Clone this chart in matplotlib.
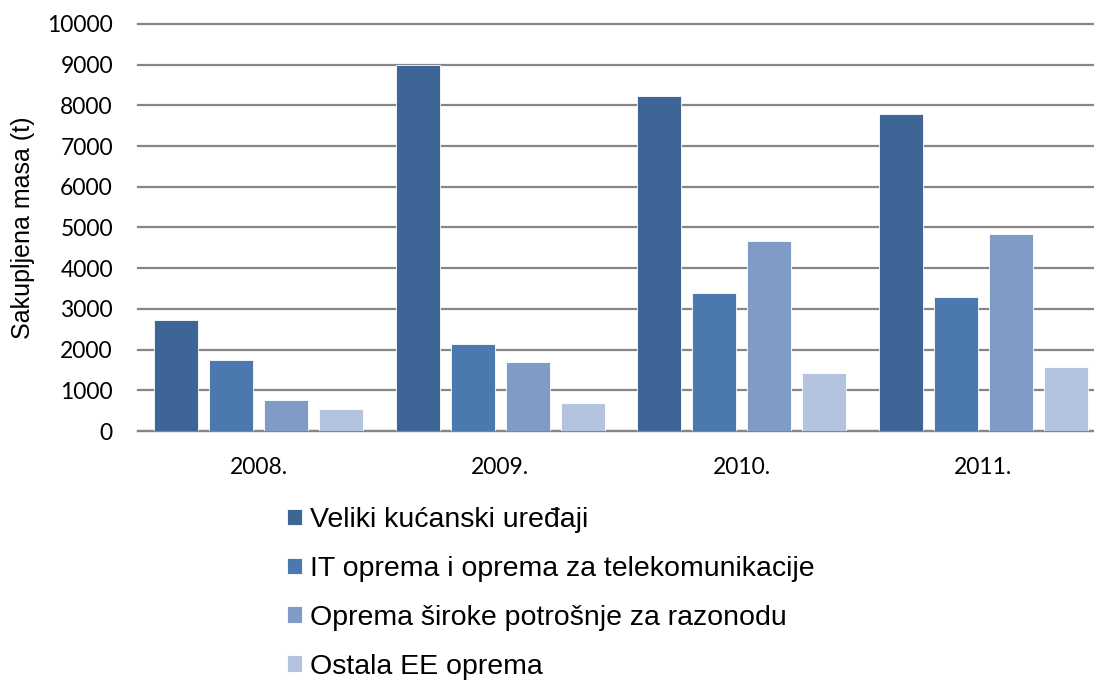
import numpy as np
import matplotlib.pyplot as plt

# Data
years = ['2008.', '2009.', '2010.', '2011.']
series_names = ['Veliki kućanski uređaji',
                'IT oprema i oprema za telekomunikacije',
                'Oprema široke potrošnje za razonodu',
                'Ostala EE oprema']
veliki = [2730, 9000, 8240, 7790]
it_oprema = [1745, 2130, 3385, 3300]
razonoda = [760, 1705, 4675, 4850]
ostala = [530, 695, 1435, 1575]
yticks = [0, 1000, 2000, 3000, 4000, 5000, 6000, 7000, 8000, 9000, 10000]

colors = ['#3D6596', '#4A78AF', '#7F9CC7', '#B4C4DF']

plt.rcParams['font.family'] = ['Liberation Sans', 'DejaVu Sans']

fig = plt.figure(figsize=(10.94, 6.82), dpi=100)
ax = fig.add_axes([0.1261, 0.368, 0.883, 0.597])

x = np.arange(len(years))
step = 0.228
width = 0.182
handles = []
for i, (vals, name) in enumerate(zip([veliki, it_oprema, razonoda, ostala], series_names)):
    b = ax.bar(x + (i - 1.5) * step, vals, width, color=colors[i],
               edgecolor='white', linewidth=0.6, label=name, zorder=3)
    handles.append(b)

ax.set_xlim(-0.5, 3.5)
ax.set_ylim(0, 10000)
ax.set_yticks(yticks)
ax.set_yticklabels([str(v) for v in yticks], fontsize=16.5, family=['Lato', 'DejaVu Sans'])
ax.set_xticks(x)
ax.set_xticklabels(years, fontsize=16.5, family=['Lato', 'DejaVu Sans'])
ax.tick_params(axis='both', length=0)
ax.tick_params(axis='x', pad=19)
ax.tick_params(axis='y', pad=18)
ax.yaxis.grid(True, color='#868686', linewidth=1.6, zorder=0)
for gl in ax.get_ygridlines():
    gl.set_clip_on(False)
ax.set_axisbelow(True)
for s in ['top', 'right', 'left']:
    ax.spines[s].set_visible(False)
ax.spines['bottom'].set_color('#868686')
ax.spines['bottom'].set_linewidth(1.6)
ax.set_ylabel('Sakupljena masa (t)', fontsize=18)
ax.yaxis.set_label_coords(-0.107, 0.5)

fig.legend(handles=handles, loc='upper left', bbox_to_anchor=(0.252, 0.273),
           frameon=False, fontsize=20.5, handlelength=0.52, handleheight=0.52,
           handletextpad=0.28, labelspacing=0.8, borderaxespad=0)

plt.savefig('out.png', dpi=100)
